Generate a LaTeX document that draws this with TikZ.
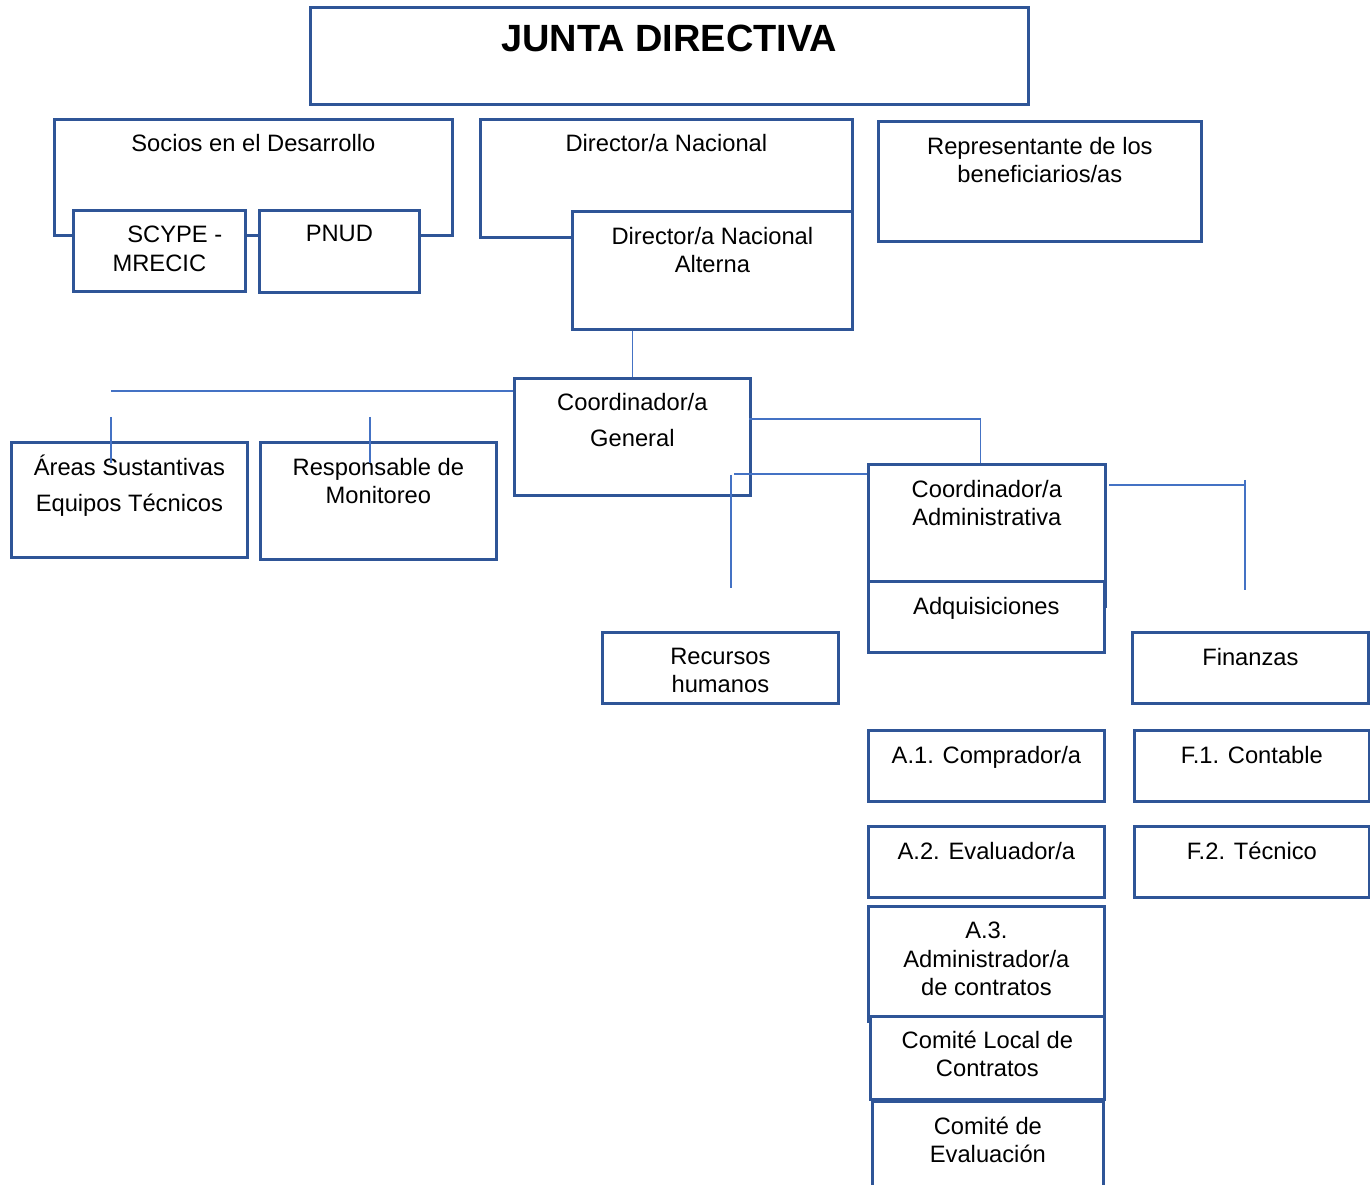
\documentclass[tikz,border=0pt]{standalone}
\usepackage{fontspec}
\setmainfont{Liberation Sans}
\usepackage{tikz}
\usetikzlibrary{positioning}
\definecolor{boxblue}{HTML}{2F5597}
\definecolor{linkblue}{HTML}{4472C4}
\tikzset{
    box/.style={draw=boxblue, line width=1.6pt, fill=white, anchor=north west, inner sep=0pt},
    txt/.style={font=\fontsize{13.5}{16}\selectfont, align=center, inner sep=0pt, anchor=north},
    link/.style={draw=linkblue, line width=0.7pt},
}
\begin{document}
\begin{tikzpicture}[x=0.02cm, y=-0.02cm]
    \useasboundingbox (0,0) rectangle (1370,1185);

    \node[box, minimum width=14.36cm, minimum height=1.94cm] (junta) at (309,6) {};
    \node[txt, font=\fontsize{21.6}{24}\selectfont\bfseries, below=0.37cm of junta.north] (junta-t) {JUNTA DIRECTIVA};

    \node[box, minimum width=7.96cm, minimum height=2.32cm] (socios) at (53,118) {};
    \node[txt, below=0.32cm of socios.north] (socios-t) {Socios en el Desarrollo};
    \node[box, minimum width=3.44cm, minimum height=1.62cm] (scype) at (72,209) {};
    \node[txt, below=0.34cm of scype.north] (scype-t) {\hspace*{1.3em}SCYPE -\\MRECIC};
    \node[box, minimum width=3.2cm, minimum height=1.64cm] (pnud) at (258,209) {};
    \node[txt, below=0.32cm of pnud.north] (pnud-t) {PNUD};

    \node[box, minimum width=7.44cm, minimum height=2.36cm] (dirnac) at (479,118) {};
    \node[txt, below=0.32cm of dirnac.north] (dirnac-t) {Director/a Nacional};
    \node[box, minimum width=5.6cm, minimum height=2.36cm] (dnalt) at (571,210) {};
    \node[txt, below=0.34cm of dnalt.north] (dnalt-t) {Director/a Nacional\\Alterna};

    \node[box, minimum width=6.46cm, minimum height=2.4cm] (repr) at (877,120) {};
    \node[txt, below=0.34cm of repr.north] (repr-t) {Representante de los\\beneficiarios/as};

    \node[box, minimum width=4.72cm, minimum height=2.34cm] (coordgen) at (513,377) {};
    \node[txt, below=0.32cm of coordgen.north] (coordgen-t) {Coordinador/a\\[4.5pt]General};

    \node[box, minimum width=4.72cm, minimum height=2.3cm] (areas) at (10,441) {};
    \node[txt, below=0.28cm of areas.north] (areas-t) {Áreas Sustantivas\\[4.5pt]Equipos Técnicos};
    \node[box, minimum width=4.72cm, minimum height=2.34cm] (resp) at (259,441) {};
    \node[txt, below=0.34cm of resp.north] (resp-t) {Responsable de\\Monitoreo};

    \node[box, minimum width=4.74cm, minimum height=2.84cm] (coordadm) at (867,463) {};
    \node[txt, below=0.34cm of coordadm.north] (coordadm-t) {Coordinador/a\\Administrativa};
    \node[box, minimum width=4.72cm, minimum height=1.42cm] (adq) at (867,580) {};
    \node[txt, below=0.34cm of adq.north] (adq-t) {Adquisiciones};

    \node[box, minimum width=4.72cm, minimum height=1.42cm] (rrhh) at (601,631) {};
    \node[txt, below=0.34cm of rrhh.north] (rrhh-t) {Recursos\\humanos};
    \node[box, minimum width=4.72cm, minimum height=1.42cm] (fin) at (1131,631) {};
    \node[txt, below=0.34cm of fin.north] (fin-t) {Finanzas};

    \node[box, minimum width=4.72cm, minimum height=1.42cm] (a1) at (867,729) {};
    \node[txt, below=0.34cm of a1.north] (a1-t) {A.1. Comprador/a};
    \node[box, minimum width=4.7cm, minimum height=1.42cm] (f1) at (1133,729) {};
    \node[txt, below=0.34cm of f1.north] (f1-t) {F.1. Contable};
    \node[box, minimum width=4.72cm, minimum height=1.42cm] (a2) at (867,825) {};
    \node[txt, below=0.34cm of a2.north] (a2-t) {A.2. Evaluador/a};
    \node[box, minimum width=4.7cm, minimum height=1.42cm] (f2) at (1133,825) {};
    \node[txt, below=0.34cm of f2.north] (f2-t) {F.2. Técnico};

    \node[box, minimum width=4.72cm, minimum height=2.3cm] (a3) at (867,905) {};
    \node[txt, below=0.34cm of a3.north] (a3-t) {A.3.\\Administrador/a\\de contratos};
    \node[box, minimum width=4.68cm, minimum height=1.66cm] (cloc) at (869,1015) {};
    \node[txt, below=0.32cm of cloc.north] (cloc-t) {Comité Local de\\Contratos};
    \node[box, minimum width=4.62cm, minimum height=1.9cm] (ceval) at (871,1100) {};
    \node[txt, below=0.34cm of ceval.north] (ceval-t) {Comité de\\Evaluación};

    \coordinate (gl) at (111,391);
    \coordinate (ad1) at (111,417);
    \coordinate (ad2) at (111,463);
    \coordinate (rd1) at (370,417);
    \coordinate (rd2) at (370,463);
    \coordinate (cgr) at (749,419);
    \coordinate (ch) at (734,474);
    \coordinate (rv1) at (731,475);
    \coordinate (rv2) at (731,588);
    \coordinate (fh) at (1109,485);
    \coordinate (fv1) at (1245,480);
    \coordinate (fv2) at (1245,590);

    \draw[link] (dnalt.south -| coordgen.north) -- (coordgen.north);
    \draw[link] (gl) -- (gl -| coordgen.west);
    \draw[link] (ad1) -- (ad2);
    \draw[link] (rd1) -- (rd2);
    \draw[link] (cgr) -| ([xshift=-0.13cm]coordadm.north);
    \draw[link] (ch) -- (ch -| coordadm.west);
    \draw[link] (rv1) -- (rv2);
    \draw[link] (fh) -- (fh -| fv1);
    \draw[link] (fv1) -- (fv2);
\end{tikzpicture}
\end{document}
